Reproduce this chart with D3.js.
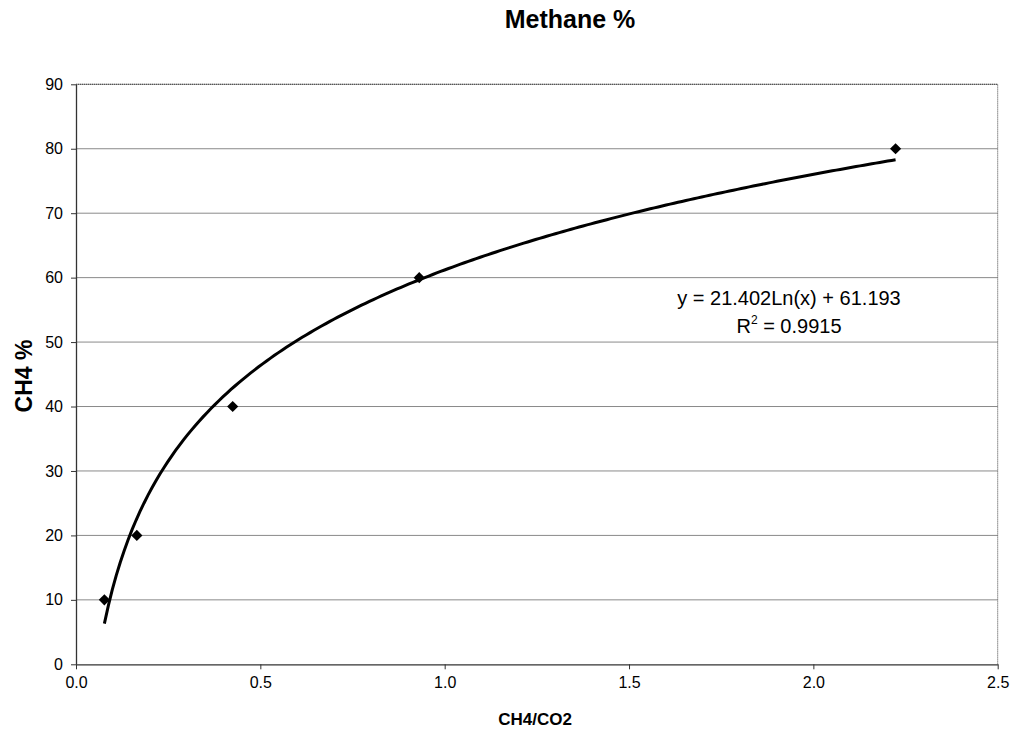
<!DOCTYPE html>
<html>
<head>
<meta charset="utf-8">
<script src="https://cdn.jsdelivr.net/npm/d3@7"></script>
<style>
  html, body { margin: 0; padding: 0; background: #fff; }
  svg { display: block; font-family: Arial, "Liberation Sans", sans-serif; }
</style>
</head>
<body>
<svg id="chart" width="1015" height="733"></svg>
<script>
// Measured samples: CH4/CO2 ratio vs methane percentage
const ratios = [0.077, 0.165, 0.425, 0.931, 2.223];
const methane = [10, 20, 40, 60, 80];

// Logarithmic trendline coefficients: y = a*ln(x) + b
const trendCoef = [21.402, 61.193];
const trendText = ["y = 21.402Ln(x) + 61.193", "0.9915"];

const xTicks = [0, 0.5, 1.0, 1.5, 2.0, 2.5];
const yTicks = [0, 10, 20, 30, 40, 50, 60, 70, 80, 90];

const svg = d3.select("#chart");
const plotL = 76, plotR = 997.7, plotT = 84.3, plotB = 664.3;

const x = d3.scaleLinear().domain([0, 2.5]).range([plotL, plotR]);
const y = d3.scaleLinear().domain([0, 90]).range([plotB, plotT]);

// Horizontal gridlines
svg.append("g")
  .selectAll("line")
  .data(yTicks.filter(d => d > 0))
  .join("line")
  .attr("x1", plotL).attr("x2", plotR)
  .attr("y1", d => y(d)).attr("y2", d => y(d))
  .attr("stroke", "#8a8a8a")
  .attr("stroke-width", 1);

// Plot-area border (top and right, dotted)
svg.append("path")
  .attr("d", `M${plotL},${plotT}H${plotR}V${plotB}`)
  .attr("fill", "none")
  .attr("stroke", "#444")
  .attr("stroke-width", 1)
  .attr("stroke-dasharray", "1,1");

// Axes
const xAxis = d3.axisBottom(x).tickValues(xTicks).tickFormat(d3.format(".1f"))
  .tickSize(5).tickSizeOuter(0).tickPadding(7);
const yAxis = d3.axisLeft(y).tickValues(yTicks).tickFormat(d3.format("d"))
  .tickSize(5).tickSizeOuter(0).tickPadding(8);

const gx = svg.append("g").attr("transform", `translate(0,${plotB})`).call(xAxis);
const gy = svg.append("g").attr("transform", `translate(${plotL},0)`).call(yAxis);

[gx, gy].forEach(g => {
  g.attr("font-size", null).attr("font-family", null);
  g.select(".domain").attr("stroke", "#333").attr("stroke-width", 1.3);
  g.selectAll(".tick line").attr("stroke", "#333");
  g.selectAll(".tick text")
    .attr("fill", "#000")
    .style("font-family", "Arial, 'Liberation Sans', sans-serif")
    .style("font-size", "16px");
});

// Trendline sampled across the data range
const xMin = d3.min(ratios), xMax = d3.max(ratios);
const trendPts = d3.range(0, 201).map(i => {
  const xv = xMin + (xMax - xMin) * i / 200;
  return [xv, trendCoef[0] * Math.log(xv) + trendCoef[1]];
});
svg.append("path")
  .datum(trendPts)
  .attr("fill", "none")
  .attr("stroke", "#000")
  .attr("stroke-width", 3)
  .attr("d", d3.line().x(d => x(d[0])).y(d => y(d[1])));

// Data markers (diamonds)
const diamond = d3.symbol().type(d3.symbolDiamond2).size(80);
svg.append("g")
  .selectAll("path")
  .data(ratios.map((r, i) => [r, methane[i]]))
  .join("path")
  .attr("transform", d => `translate(${x(d[0])},${y(d[1])})`)
  .attr("d", diamond)
  .attr("fill", "#000");

// Trendline equation label
const eq = svg.append("g").attr("font-size", "20px").attr("text-anchor", "middle");
eq.append("text").attr("x", 789).attr("y", 305).text(trendText[0]);
const r2 = eq.append("text").attr("x", 789).attr("y", 333);
r2.append("tspan").text("R");
r2.append("tspan").attr("dy", -9).attr("font-size", "12px").text("2");
r2.append("tspan").attr("dy", 9).text(" = " + trendText[1]);

// Titles
svg.append("text")
  .attr("x", 570).attr("y", 28)
  .attr("text-anchor", "middle")
  .attr("font-size", "25px").attr("font-weight", "bold")
  .text("Methane %");

svg.append("text")
  .attr("x", 535).attr("y", 725)
  .attr("text-anchor", "middle")
  .attr("font-size", "17px").attr("font-weight", "bold")
  .text("CH4/CO2");

svg.append("text")
  .attr("transform", "translate(32,376) rotate(-90)")
  .attr("text-anchor", "middle")
  .attr("font-size", "23px").attr("font-weight", "bold")
  .text("CH4 %");
</script>
</body>
</html>
